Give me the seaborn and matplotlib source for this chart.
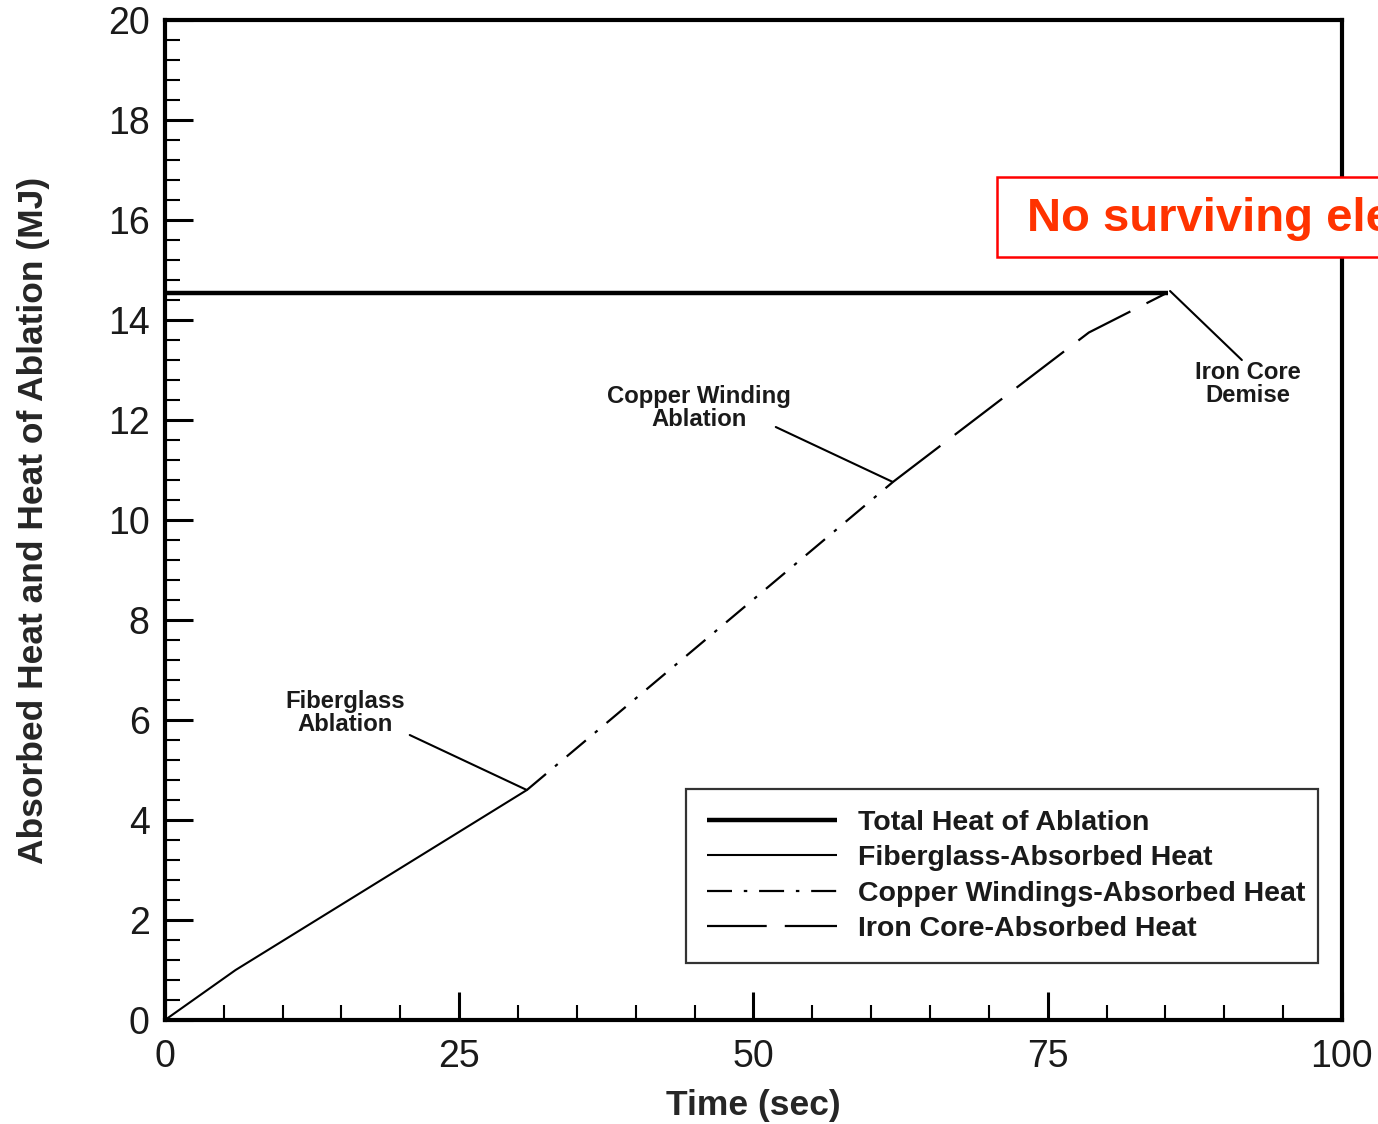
import matplotlib
matplotlib.use("Agg")
import matplotlib.pyplot as plt
from matplotlib.lines import Line2D
from matplotlib.patches import Rectangle
from matplotlib.ticker import MultipleLocator
import seaborn as sns
import pandas as pd

# Heat budget of the re-entering component (time in s, heat in MJ)
total_time = [0.0, 85.2]
total_heat = [14.55, 14.55]

fiberglass_time = [0.0, 6.0, 30.75]
fiberglass_heat = [0.0, 1.0, 4.6]

copper_time = [30.75, 61.85]
copper_heat = [4.6, 10.76]

iron_time = [61.85, 78.5, 85.2]
iron_heat = [10.76, 13.75, 14.55]

series_labels = [
    "Total Heat of Ablation",
    "Fiberglass-Absorbed Heat",
    "Copper Windings-Absorbed Heat",
    "Iron Core-Absorbed Heat",
]

x_ticks = [0, 25, 50, 75, 100]
y_ticks = [0, 2, 4, 6, 8, 10, 12, 14, 16, 18, 20]

# event call-outs: label, text position, leader start, leader end
events = [
    ("Fiberglass\nAblation", (15.3, 6.14), (20.8, 5.7), (30.75, 4.6)),
    ("Copper Winding\nAblation", (45.4, 12.24), (51.9, 11.86), (61.85, 10.76)),
    ("Iron Core\nDemise", (92.0, 12.72), (91.5, 13.2), (85.4, 14.58)),
]

sns.set_theme(style="white")
plt.rcParams["font.family"] = ["Liberation Sans", "DejaVu Sans"]
plt.rcParams["lines.scale_dashes"] = False
plt.rcParams["text.color"] = "#1a1a1a"

fig = plt.figure(figsize=(13.78, 11.24), dpi=100)
fig.patch.set_facecolor("white")
ax = fig.add_axes([0.1197, 0.0925, 0.8541, 0.8897])
ax.set_facecolor("white")

frames = {
    series_labels[0]: pd.DataFrame({"t": total_time, "q": total_heat}),
    series_labels[1]: pd.DataFrame({"t": fiberglass_time, "q": fiberglass_heat}),
    series_labels[2]: pd.DataFrame({"t": copper_time, "q": copper_heat}),
    series_labels[3]: pd.DataFrame({"t": iron_time, "q": iron_heat}),
}
styles = {
    series_labels[0]: dict(linewidth=3.2, linestyle="-"),
    series_labels[1]: dict(linewidth=1.5, linestyle="-"),
    series_labels[2]: dict(linewidth=1.6, linestyle=(0, (18, 8.5, 2.5, 8.5))),
    series_labels[3]: dict(linewidth=1.6, linestyle=(0, (43, 13))),
}

handles = []
for name in series_labels:
    sns.lineplot(data=frames[name], x="t", y="q", ax=ax, color="black",
                 solid_capstyle="butt", dash_capstyle="butt",
                 sort=False, legend=False, **styles[name])
    handles.append(Line2D([], [], color="black", solid_capstyle="butt",
                          dash_capstyle="butt", **styles[name]))

for label, text_xy, start, end in events:
    ax.annotate("", xy=end, xytext=start,
                arrowprops=dict(arrowstyle="-", color="black", lw=1.5,
                                shrinkA=0, shrinkB=0))
    ax.text(text_xy[0], text_xy[1], label, ha="center", va="center",
            fontsize=17.2, fontweight="bold", linespacing=0.95)

ax.set_xlim(0, 100)
ax.set_ylim(0, 20)
ax.set_xticks(x_ticks)
ax.set_yticks(y_ticks)
ax.xaxis.set_minor_locator(MultipleLocator(5))
ax.yaxis.set_minor_locator(MultipleLocator(0.4))
ax.tick_params(axis="both", which="both", bottom=True, left=True,
               top=False, right=False, direction="in")
ax.tick_params(axis="both", which="major", length=20, width=2.2,
               color="black", labelsize=27, labelcolor="#1a1a1a")
ax.tick_params(axis="x", which="major", pad=14)
ax.tick_params(axis="y", which="major", pad=11)
ax.tick_params(axis="both", which="minor", length=10.5, width=1.5,
               color="black")

for side in ["left", "right", "top", "bottom"]:
    ax.spines[side].set_visible(True)
    ax.spines[side].set_color("black")
    ax.spines[side].set_linewidth(3.0)

ax.set_xlabel("Time (sec)", fontsize=25.5, fontweight="bold", labelpad=10)
ax.set_ylabel("Absorbed Heat and Heat of Ablation (MJ)", fontsize=25.5,
              fontweight="bold", labelpad=42)

leg = ax.legend(handles, series_labels, loc="lower left",
                bbox_to_anchor=(0.4427, 0.057, 0.5373, 0.177), mode="expand",
                borderaxespad=0, fancybox=False, frameon=True,
                prop={"size": 20.5, "weight": "bold"}, handlelength=4.55,
                handletextpad=0.75, labelspacing=0.32, borderpad=0.75)
leg.get_frame().set_edgecolor("black")
leg.get_frame().set_linewidth(1.6)
leg.get_frame().set_facecolor("white")

# red call-out box running off the right edge
fig.add_artist(Rectangle((997 / 1378, 1 - 257 / 1124), 0.4, 80 / 1124,
                         transform=fig.transFigure, facecolor="white",
                         edgecolor="#ff0000", linewidth=1.8, zorder=5))
fig.text(1027 / 1378, 1 - 219 / 1124, "No surviving elements",
         color="#ff3300", fontsize=34, fontweight="bold",
         ha="left", va="center", zorder=6)

fig.savefig("out.png", dpi=100, facecolor="white")
